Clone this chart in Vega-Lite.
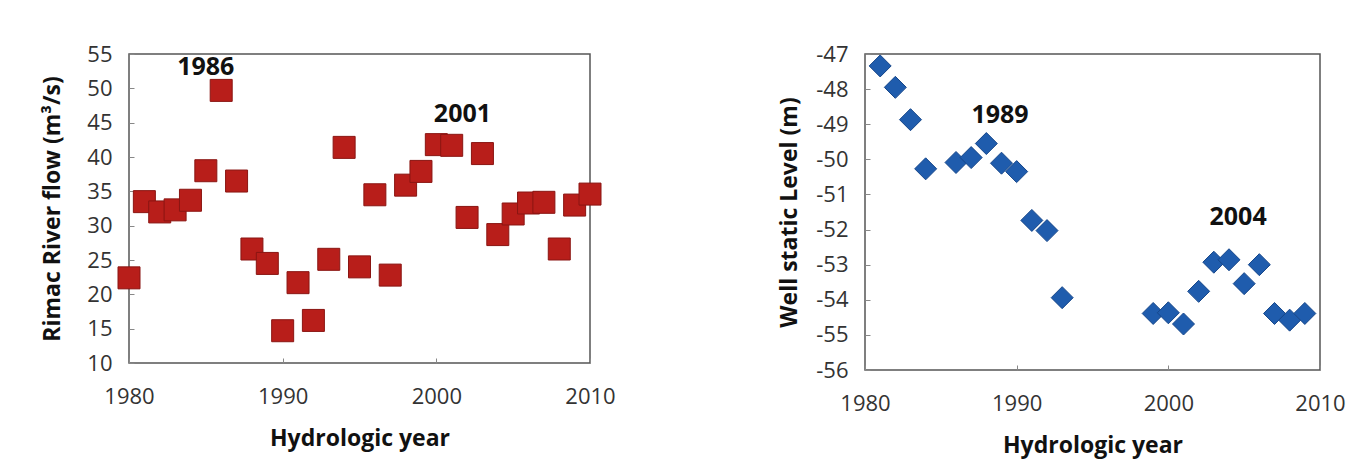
{
  "$schema": "https://vega.github.io/schema/vega-lite/v6.json",
  "background": "white",
  "padding": {"left": 41, "top": 42, "right": 10, "bottom": 5},
  "bounds": "flush",
  "spacing": 275,
  "datasets": {
    "flow": [
      {"year": 1980, "flow": 22.4}, {"year": 1981, "flow": 33.5}, {"year": 1982, "flow": 32.0},
      {"year": 1983, "flow": 32.3}, {"year": 1984, "flow": 33.7}, {"year": 1985, "flow": 38.0},
      {"year": 1986, "flow": 49.7}, {"year": 1987, "flow": 36.5}, {"year": 1988, "flow": 26.6},
      {"year": 1989, "flow": 24.5}, {"year": 1990, "flow": 14.7}, {"year": 1991, "flow": 21.7},
      {"year": 1992, "flow": 16.2}, {"year": 1993, "flow": 25.1}, {"year": 1994, "flow": 41.4},
      {"year": 1995, "flow": 24.0}, {"year": 1996, "flow": 34.5}, {"year": 1997, "flow": 22.8},
      {"year": 1998, "flow": 35.9}, {"year": 1999, "flow": 37.9}, {"year": 2000, "flow": 41.8},
      {"year": 2001, "flow": 41.7}, {"year": 2002, "flow": 31.2}, {"year": 2003, "flow": 40.5},
      {"year": 2004, "flow": 28.7}, {"year": 2005, "flow": 31.7}, {"year": 2006, "flow": 33.3},
      {"year": 2007, "flow": 33.4}, {"year": 2008, "flow": 26.6}, {"year": 2009, "flow": 33.0},
      {"year": 2010, "flow": 34.6}
    ],
    "flowLabels": [
      {"year": 1985.0, "flow": 53.15, "label": "1986"},
      {"year": 2001.7, "flow": 46.3, "label": "2001"}
    ],
    "well": [
      {"year": 1981, "level": -47.34}, {"year": 1982, "level": -47.95}, {"year": 1983, "level": -48.87},
      {"year": 1984, "level": -50.27}, {"year": 1986, "level": -50.09}, {"year": 1987, "level": -49.95},
      {"year": 1988, "level": -49.55}, {"year": 1989, "level": -50.11}, {"year": 1990, "level": -50.35},
      {"year": 1991, "level": -51.74}, {"year": 1992, "level": -52.03}, {"year": 1993, "level": -53.94},
      {"year": 1999, "level": -54.39}, {"year": 2000, "level": -54.37}, {"year": 2001, "level": -54.69},
      {"year": 2002, "level": -53.76}, {"year": 2003, "level": -52.93}, {"year": 2004, "level": -52.86},
      {"year": 2005, "level": -53.54}, {"year": 2006, "level": -53.0}, {"year": 2007, "level": -54.39},
      {"year": 2008, "level": -54.58}, {"year": 2009, "level": -54.39}
    ],
    "wellLabels": [
      {"year": 1988.9, "level": -48.74, "label": "1989"},
      {"year": 2004.6, "level": -51.64, "label": "2004"}
    ]
  },
  "hconcat": [
    {
      "width": 461,
      "height": 309,
      "layer": [
        {
          "data": {"name": "flow"},
          "mark": {"type": "point", "shape": "square", "filled": true, "size": 484, "color": "#B81E1A", "stroke": "#8A1512", "strokeWidth": 1, "opacity": 1},
          "encoding": {
            "x": {"field": "year", "type": "quantitative", "scale": {"domain": [1980, 2010], "nice": false, "zero": false},
                  "axis": {"title": "Hydrologic year", "values": [1980, 1990, 2000, 2010], "tickCount": 4, "labelExpr": "toString(datum.value)", "labelOverlap": false, "labelPadding": 28, "titlePadding": 20}},
            "y": {"field": "flow", "type": "quantitative", "scale": {"domain": [10, 55], "nice": false, "zero": false},
                  "axis": {"title": "Rimac River flow (m³/s)", "values": [10, 15, 20, 25, 30, 35, 40, 45, 50, 55], "tickCount": 10, "labelExpr": "toString(datum.value)", "labelOverlap": false, "titlePadding": 22}}
          }
        },
        {
          "data": {"name": "flowLabels"},
          "mark": {"type": "text", "font": "Open Sans", "fontWeight": "bold", "fontSize": 25, "color": "#111", "baseline": "middle", "align": "center"},
          "encoding": {
            "x": {"field": "year", "type": "quantitative"},
            "y": {"field": "flow", "type": "quantitative"},
            "text": {"field": "label"}
          }
        }
      ]
    },
    {
      "width": 455,
      "height": 316,
      "layer": [
        {
          "data": {"name": "well"},
          "mark": {"type": "point", "shape": "diamond", "filled": true, "size": 484, "color": "#1F5CAD", "stroke": "#17478A", "strokeWidth": 1, "opacity": 1},
          "encoding": {
            "x": {"field": "year", "type": "quantitative", "scale": {"domain": [1980, 2010], "nice": false, "zero": false},
                  "axis": {"title": "Hydrologic year", "values": [1980, 1990, 2000, 2010], "tickCount": 4, "labelExpr": "toString(datum.value)", "labelOverlap": false, "labelPadding": 28, "titlePadding": 20}},
            "y": {"field": "level", "type": "quantitative", "scale": {"domain": [-56, -47], "nice": false, "zero": false},
                  "axis": {"title": "Well static Level (m)", "values": [-56, -55, -54, -53, -52, -51, -50, -49, -48, -47], "tickCount": 10, "labelExpr": "toString(datum.value)", "labelOverlap": false, "titlePadding": 14}}
          }
        },
        {
          "data": {"name": "wellLabels"},
          "mark": {"type": "text", "font": "Open Sans", "fontWeight": "bold", "fontSize": 25, "color": "#111", "baseline": "middle", "align": "center"},
          "encoding": {
            "x": {"field": "year", "type": "quantitative"},
            "y": {"field": "level", "type": "quantitative"},
            "text": {"field": "label"}
          }
        }
      ]
    }
  ],
  "config": {
    "font": "Open Sans",
    "view": {"stroke": "#555", "strokeWidth": 1.5},
    "axis": {
      "grid": false,
      "domain": false,
      "ticks": true,
      "tickSize": -5,
      "tickColor": "#888",
      "tickWidth": 1,
      "labelFont": "Open Sans",
      "labelFontSize": 22,
      "labelColor": "#333",
      "labelPadding": 22,
      "labelFlush": false,
      "labelOverlap": false,
      "titleFont": "Open Sans",
      "titleFontSize": 23,
      "titleFontWeight": "bold",
      "titleColor": "#111"
    }
  }
}
